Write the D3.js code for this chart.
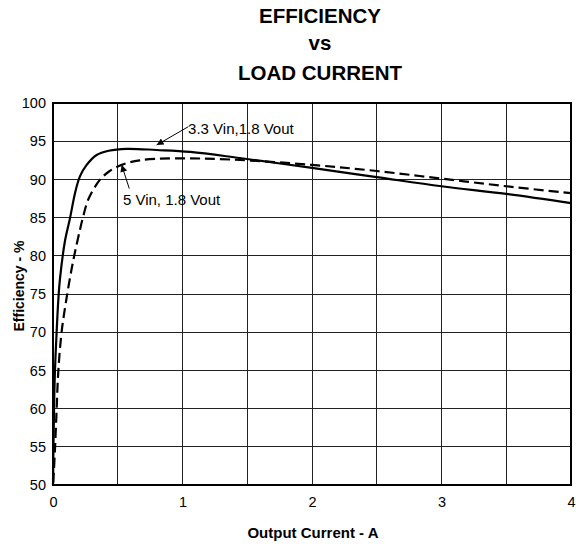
<!DOCTYPE html>
<html>
<head>
<meta charset="utf-8">
<script src="https://cdn.jsdelivr.net/npm/d3@7"></script>
<style>
  html, body { margin: 0; padding: 0; background: #fff; }
  text { font-family: "Liberation Sans", Arial, sans-serif; fill: #000; }
</style>
</head>
<body>
<svg id="chart" width="576" height="548"></svg>
<script>
// ---- Data ----
const titleLines = ["EFFICIENCY", "vs", "LOAD CURRENT"];
const xTicks = [0, 1, 2, 3, 4];
const yTicks = [50, 55, 60, 65, 70, 75, 80, 85, 90, 95, 100];
const xGrid = [0.5, 1, 1.5, 2, 2.5, 3, 3.5];
const xLabel = "Output Current - A";
const yLabel = "Efficiency - %";

const vin33Current = [0, 0.008, 0.015, 0.028, 0.041, 0.054, 0.093, 0.131, 0.17, 0.208, 0.26, 0.337, 0.43, 0.57, 0.8, 1.06, 1.44, 2.0, 2.5, 3.0, 3.5, 4.0];
const vin33Eff     = [50, 60, 64.9, 70, 74.2, 77.0, 82.0, 84.9, 88.2, 90.4, 91.9, 93.2, 93.75, 94.0, 93.85, 93.6, 92.8, 91.5, 90.3, 89.1, 88.1, 86.9];

const vin5Current = [0.002, 0.015, 0.028, 0.041, 0.067, 0.106, 0.144, 0.17, 0.208, 0.234, 0.273, 0.36, 0.43, 0.53, 0.67, 0.93, 1.37, 2.0, 2.5, 3.0, 3.5, 4.0];
const vin5Eff     = [50.3, 54.6, 59.9, 64.9, 70.1, 74.6, 78.3, 80.5, 83.4, 85.2, 87.4, 89.9, 91.0, 91.9, 92.5, 92.75, 92.6, 91.9, 91.1, 90.1, 89.1, 88.2];

const annotations = [
  { text: "3.3 Vin,1.8 Vout", tx: 1.043, ty: 96.0, from: [1.045, 96.9], to: [0.80, 94.5] },
  { text: "5 Vin, 1.8 Vout",  tx: 0.54,  ty: 86.6, from: [0.589, 88.8], to: [0.53, 91.9] }
];

// ---- Layout ----
const svg = d3.select("#chart");
const pL = 53, pR = 571, pT = 103, pB = 485;
const x = d3.scaleLinear().domain([0, 4]).range([pL, pR]);
const y = d3.scaleLinear().domain([50, 100]).range([pB, pT]);

// Title
const titleY = [23, 50, 80];
svg.selectAll("text.title").data(titleLines).enter().append("text")
  .attr("class", "title")
  .attr("x", 320).attr("y", (d, i) => titleY[i])
  .attr("text-anchor", "middle")
  .attr("font-size", "20.5px").attr("font-weight", "bold")
  .text(d => d);

// Grid
const grid = svg.append("g");
grid.selectAll("line.gy").data(yTicks.slice(1, -1)).enter().append("line")
  .attr("x1", pL).attr("x2", pR)
  .attr("y1", d => y(d)).attr("y2", d => y(d))
  .attr("stroke", "#222").attr("stroke-width", 1).attr("shape-rendering", "crispEdges");
grid.selectAll("line.gx").data(xGrid).enter().append("line")
  .attr("y1", pT).attr("y2", pB)
  .attr("x1", d => x(d)).attr("x2", d => x(d))
  .attr("stroke", "#222").attr("stroke-width", 1).attr("shape-rendering", "crispEdges");

// Axes (labels only, no ticks)
const xAxis = d3.axisBottom(x).tickValues(xTicks).tickSize(0).tickPadding(12).tickFormat(d3.format("d"));
const yAxis = d3.axisLeft(y).tickValues(yTicks).tickSize(0).tickPadding(7).tickFormat(d3.format("d"));
const gx = svg.append("g").attr("transform", `translate(0,${pB})`).call(xAxis);
const gy = svg.append("g").attr("transform", `translate(${pL},0)`).call(yAxis);
[gx, gy].forEach(g => {
  g.select(".domain").remove();
  g.selectAll("text").attr("font-size", "14.5px").attr("font-family", "'Liberation Sans', Arial, sans-serif").attr("fill", "#000");
});

// Frame
svg.append("rect")
  .attr("x", pL).attr("y", pT).attr("width", pR - pL).attr("height", pB - pT)
  .attr("fill", "none").attr("stroke", "#000").attr("stroke-width", 2);

// Axis titles
svg.append("text").attr("x", 313).attr("y", 538)
  .attr("text-anchor", "middle").attr("font-size", "15px").attr("font-weight", "bold")
  .text(xLabel);
svg.append("text")
  .attr("transform", "translate(24,286) rotate(-90)")
  .attr("text-anchor", "middle").attr("font-size", "14px").attr("font-weight", "bold")
  .text(yLabel);

// Curves
const line = d3.line().x(d => x(d[0])).y(d => y(d[1])).curve(d3.curveCatmullRom.alpha(0.5));
const s33 = vin33Current.map((c, i) => [c, vin33Eff[i]]);
const s5 = vin5Current.map((c, i) => [c, vin5Eff[i]]);
svg.append("path").datum(s5).attr("d", line)
  .attr("fill", "none").attr("stroke", "#000").attr("stroke-width", 2.2)
  .attr("stroke-dasharray", "10,5");
svg.append("path").datum(s33).attr("d", line)
  .attr("fill", "none").attr("stroke", "#000").attr("stroke-width", 2.2);

// Annotations
svg.append("defs").append("marker")
  .attr("id", "arrow").attr("viewBox", "0 0 10 10")
  .attr("refX", 10).attr("refY", 5)
  .attr("markerWidth", 9).attr("markerHeight", 7).attr("markerUnits", "userSpaceOnUse")
  .attr("orient", "auto")
  .append("path").attr("d", "M0,0 L10,5 L0,10 Z").attr("fill", "#000");

annotations.forEach(a => {
  svg.append("line")
    .attr("x1", x(a.from[0])).attr("y1", y(a.from[1]))
    .attr("x2", x(a.to[0])).attr("y2", y(a.to[1]))
    .attr("stroke", "#000").attr("stroke-width", 1)
    .attr("marker-end", "url(#arrow)");
  svg.append("text")
    .attr("x", x(a.tx)).attr("y", y(a.ty))
    .attr("font-size", "15px")
    .text(a.text);
});
</script>
</body>
</html>
